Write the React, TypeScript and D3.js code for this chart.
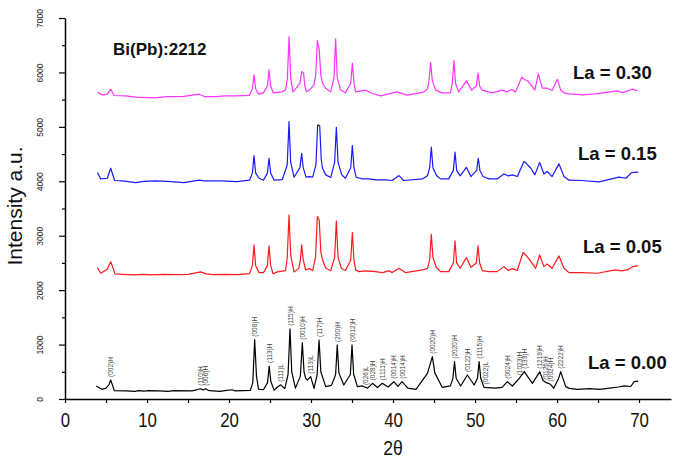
import { useEffect, useRef } from 'react';
import * as d3 from 'd3';

// [2θ, intensity], one list per sample
const la000: [number, number][] = [
  [3.8, 239], [4.5, 178], [5.0, 200], [5.35, 260], [5.57, 349], [5.8, 250], [6.0, 153], [7.5, 150],
  [8.5, 140], [9.0, 155], [9.6, 145], [10.2, 153], [11.5, 150], [12.6, 140], [13.2, 153], [15.5, 150],
  [16.55, 189], [16.85, 165], [17.15, 189], [17.6, 153], [18.9, 140], [19.5, 153], [20.3, 170], [20.8, 150],
  [22.6, 160], [22.9, 300], [23.13, 1090], [23.35, 420], [23.6, 180], [24.2, 170], [24.7, 300], [24.9, 606],
  [25.1, 320], [25.5, 160], [25.9, 220], [26.3, 260], [26.8, 190], [27.2, 450], [27.44, 1290], [27.65, 500],
  [28.1, 200], [28.7, 420], [28.94, 1035], [29.15, 500], [29.35, 380], [29.56, 349], [29.96, 410], [30.37, 196],
  [30.75, 450], [30.98, 1084], [31.2, 500], [31.79, 227], [32.5, 250], [33.0, 450], [33.2, 993], [33.4, 480],
  [34.0, 257], [34.8, 450], [35.0, 993], [35.2, 460], [35.65, 227], [36.26, 240], [36.9, 200], [37.5, 288],
  [38.1, 210], [38.7, 288], [39.4, 220], [40.1, 318], [40.6, 230], [41.1, 318], [41.8, 200], [42.8, 178],
  [44.2, 472], [44.55, 650], [44.8, 778], [45.1, 480], [46.0, 214], [47.0, 240], [47.3, 380], [47.5, 686],
  [47.7, 380], [48.25, 239], [49.07, 441], [49.9, 257], [50.3, 380], [50.5, 686], [50.7, 380], [51.1, 214],
  [52.5, 200], [53.3, 214], [53.95, 318], [54.56, 239], [55.4, 380], [56.0, 502], [57.0, 288], [57.9, 502],
  [58.3, 340], [58.7, 300], [59.2, 270], [59.6, 196], [60.2, 380], [60.45, 502], [61.06, 227], [61.5, 196],
  [62.5, 178], [64.0, 190], [65.2, 178], [66.4, 200], [67.5, 220], [68.2, 240], [69.0, 230], [69.4, 320],
  [69.9, 330],
];

const la005: [number, number][] = [
  [3.95, 2413], [4.35, 2310], [5.16, 2384], [5.57, 2524], [6.1, 2298], [7.0, 2291], [8.5, 2280], [9.5, 2291],
  [10.5, 2280], [12, 2291], [13.5, 2285], [15, 2291], [16.55, 2335], [17.2, 2300], [18, 2285], [19.5, 2291],
  [21, 2285], [22.5, 2305], [22.85, 2450], [23.05, 2830], [23.25, 2450], [23.66, 2322], [24.2, 2322], [24.68, 2450],
  [24.88, 2812], [25.08, 2450], [25.37, 2300], [25.9, 2335], [26.9, 2360], [27.1, 2600], [27.32, 3382], [27.52, 2650],
  [27.93, 2335], [28.5, 2400], [28.7, 2550], [28.86, 2830], [29.05, 2560], [29.35, 2370], [29.76, 2395], [30.2, 2360],
  [30.55, 2600], [30.77, 3352], [31.0, 3290], [31.2, 2700], [31.4, 2560], [31.8, 2402], [32.4, 2360], [32.88, 2600],
  [33.09, 3274], [33.3, 2600], [33.7, 2402], [34.2, 2360], [34.84, 2550], [35.04, 3060], [35.24, 2550], [35.44, 2371],
  [35.85, 2340], [36.66, 2355], [37.9, 2340], [38.7, 2322], [39.5, 2355], [39.9, 2322], [40.73, 2401], [41.5, 2322],
  [43.6, 2371], [44.2, 2400], [44.47, 2550], [44.67, 3027], [44.87, 2600], [45.28, 2420], [45.8, 2340], [46.8, 2340],
  [47.36, 2500], [47.56, 2904], [47.76, 2500], [48.2, 2402], [48.94, 2598], [49.5, 2420], [50.16, 2500], [50.36, 2812],
  [50.56, 2500], [50.89, 2360], [51.7, 2340], [52.7, 2340], [53.53, 2432], [54.06, 2360], [54.55, 2395], [55.16, 2360],
  [55.85, 2690], [56.2, 2647], [56.8, 2530], [57.4, 2401], [57.88, 2647], [58.4, 2432], [58.8, 2480], [59.4, 2401],
  [60.24, 2629], [60.85, 2401], [61.46, 2322], [63.0, 2322], [64.9, 2310], [67.15, 2371], [67.8, 2353], [68.6, 2371],
  [69.2, 2432], [69.9, 2450],
];

const la015: [number, number][] = [
  [3.95, 4160], [4.35, 4044], [5.16, 4056], [5.57, 4240], [6.06, 4014], [7, 4007], [8.6, 3977], [9.6, 4000],
  [11, 4007], [12.5, 4000], [14.5, 3977], [16.35, 4020], [17, 4007], [19, 4007], [21, 3995], [22.5, 4020],
  [22.85, 4150], [23.05, 4472], [23.25, 4150], [23.66, 4056], [24.2, 4020], [24.68, 4150], [24.88, 4423], [25.08, 4150],
  [25.5, 4020], [26.5, 4032], [27.1, 4300], [27.32, 5097], [27.52, 4350], [27.93, 4075], [28.65, 4250], [28.86, 4514],
  [29.05, 4250], [29.4, 4075], [29.8, 4087], [30.2, 4075], [30.6, 4300], [30.81, 5036], [31.06, 5018], [31.25, 4400],
  [31.4, 4240], [31.8, 4118], [32.4, 4069], [32.88, 4350], [33.09, 4993], [33.3, 4350], [33.75, 4118], [34.2, 4056],
  [34.84, 4250], [35.04, 4656], [35.24, 4250], [35.5, 4075], [36.25, 4044], [37.1, 4044], [37.9, 4026], [39.1, 4026],
  [39.9, 4014], [40.73, 4105], [41.3, 4014], [43.6, 4044], [44.2, 4100], [44.47, 4250], [44.67, 4626], [44.87, 4250],
  [45.3, 4105], [45.8, 4044], [46.8, 4044], [47.36, 4200], [47.56, 4534], [47.76, 4200], [48.2, 4100], [48.94, 4257],
  [49.5, 4087], [50.2, 4200], [50.4, 4423], [50.6, 4200], [50.97, 4087], [51.7, 4044], [52.7, 4044], [53.53, 4135],
  [54.06, 4100], [54.55, 4118], [55.16, 4087], [55.97, 4362], [56.25, 4330], [56.8, 4240], [57.3, 4118], [57.88, 4344],
  [58.4, 4135], [58.8, 4180], [59.4, 4087], [60.24, 4320], [60.85, 4087], [61.46, 4020], [63, 4014], [65.1, 3990],
  [67.55, 4075], [68.4, 4056], [69.1, 4160], [69.9, 4170],
];

const la030: [number, number][] = [
  [3.95, 5637], [4.55, 5588], [5.16, 5600], [5.57, 5692], [5.98, 5576], [7.4, 5570], [8.6, 5545], [10.85, 5533],
  [12.5, 5557], [14.5, 5560], [16.35, 5600], [17, 5557], [18.4, 5557], [19.5, 5570], [20.8, 5570], [22.5, 5580],
  [22.85, 5700], [23.05, 5955], [23.25, 5700], [23.6, 5600], [24.2, 5625], [24.68, 5750], [24.88, 6047], [25.08, 5750],
  [25.4, 5625], [26.5, 5643], [26.9, 5680], [27.12, 5900], [27.32, 6659], [27.52, 5900], [27.8, 5643], [28.3, 5735],
  [28.65, 5800], [28.86, 6017], [29.1, 5986], [29.25, 5750], [29.45, 5643], [29.85, 5680], [30.36, 5772], [30.57, 5950],
  [30.77, 6586], [31.0, 6415], [31.2, 5950], [31.4, 5802], [31.8, 5710], [32.4, 5643], [32.8, 5900], [33.0, 6617],
  [33.2, 5900], [33.6, 5680], [34.2, 5625], [34.84, 5800], [35.04, 6170], [35.24, 5800], [35.44, 5643], [36.66, 5674],
  [37.5, 5612], [38.5, 5570], [39.5, 5606], [40.5, 5643], [41.7, 5582], [42.8, 5612], [43.8, 5643], [44.2, 5700],
  [44.39, 5850], [44.59, 6182], [44.79, 5850], [45.2, 5674], [46.0, 5625], [47.0, 5625], [47.23, 5800], [47.43, 6219],
  [47.63, 5800], [48.0, 5643], [48.45, 5735], [48.94, 5845], [49.6, 5674], [50.16, 5750], [50.36, 5986], [50.56, 5750],
  [50.89, 5674], [52.1, 5625], [53.33, 5674], [53.9, 5643], [54.47, 5686], [54.95, 5643], [55.7, 5912], [56.1, 5864],
  [56.4, 5851], [57.0, 5735], [57.3, 5674], [57.72, 5974], [58.2, 5710], [58.8, 5710], [59.4, 5667], [60.04, 5876],
  [60.45, 5674], [60.85, 5625], [61.5, 5606], [63.1, 5588], [64.7, 5606], [67.35, 5662], [68.0, 5630], [69.18, 5692],
  [69.8, 5662],
];

const seriesNames = ['La = 0.00', 'La = 0.05', 'La = 0.15', 'La = 0.30'];
const seriesData = [la000, la005, la015, la030];

// reflection tags over the undoped pattern
const peakPos = [5.57, 16.55, 17.15, 23.13, 24.9, 26.3, 27.44, 28.94, 29.96, 30.98, 33.2, 35.0, 36.6, 37.5,
  38.7, 40.1, 41.1, 44.8, 47.5, 49.07, 50.5, 51.3, 53.95, 55.4, 56.0, 57.9, 58.6, 59.2, 60.45];
const peakTags = ['(002)H', '(110)H', '(006)H', '(008)H', '(113)H', '(111)L', '(115)H', '(0010)H', '(113)L', '(117)H',
  '(200)H', '(0012)H', '(026)L', '(028)H', '(1111)H', '(0014)H', '(0014)H', '(0020)H', '(2020)H', '(0122)H',
  '(1115)H', '(0022)L', '(0024)H', '(1023)H', '(133)H', '(1219)H', '(0126)H', '(0024)H', '(2222)H'];

const xTicks = d3.range(0, 71, 5);
const yTicks = d3.range(0, 7001, 500);

export default function App() {
  const svgRef = useRef<SVGSVGElement>(null);

  useEffect(() => {
    if (!svgRef.current) return;
    const width = 673;
    const height = 460;
    const svg = d3.select(svgRef.current);
    svg.selectAll('*').remove();
    svg.attr('width', width).attr('height', height);

    const font = 'Liberation Sans, Arial, Helvetica, sans-serif';
    const x = d3.scaleLinear().domain([0, 73.9]).range([65, 671]);
    const y = d3.scaleLinear().domain([0, 7000]).range([399, 18]);
    const colors = ['#000000', '#ff1a1a', '#1a1aff', '#ff33ff'];

    // curves
    const line = d3.line<[number, number]>().x(d => x(d[0])).y(d => y(d[1]));
    seriesData.forEach((s, i) => {
      svg.append('path')
        .attr('d', line(s))
        .attr('fill', 'none')
        .attr('stroke', colors[i])
        .attr('stroke-width', 1.2)
        .attr('stroke-linejoin', 'round');
    });

    // hkl tags on the undoped pattern
    const peakY = (t: number) => {
      let best = la000[0];
      la000.forEach(p => { if (Math.abs(p[0] - t) < Math.abs(best[0] - t)) best = p; });
      return best[1];
    };
    peakPos.forEach((t, i) => {
      svg.append('text')
        .attr('transform', `translate(${x(t) + 2.5},${y(peakY(t)) - 3}) rotate(-90)`)
        .attr('font-family', font)
        .attr('font-size', 6.5)
        .attr('fill', '#444')
        .text(peakTags[i]);
    });

    // x axis
    const gx = svg.append('g')
      .attr('transform', `translate(0,${y(0)})`)
      .call(d3.axisBottom(x).tickValues(xTicks).tickSize(4).tickSizeOuter(0)
        .tickFormat(d => (+d % 10 === 0 ? String(d) : '')));
    gx.select('.domain').attr('stroke', '#000').attr('stroke-width', 1.5);
    gx.selectAll('.tick line').attr('stroke', '#000').attr('stroke-width', 1.2);
    gx.selectAll('.tick text')
      .attr('font-family', font)
      .attr('font-size', 20)
      .attr('fill', '#111')
      .attr('y', 0)
      .attr('dy', 0)
      .attr('transform', 'translate(0,28) scale(0.84,1)');

    // y axis
    const gy = svg.append('g')
      .attr('transform', `translate(${x(0)},0)`)
      .call(d3.axisLeft(y).tickValues(yTicks).tickSize(6).tickSizeOuter(0)
        .tickFormat(d => (+d % 1000 === 0 ? String(d) : '')));
    gy.select('.domain').attr('stroke', '#000').attr('stroke-width', 1.5);
    gy.selectAll('.tick line')
      .attr('stroke', '#000')
      .attr('stroke-width', 1.2)
      .attr('x2', (d: any) => (d % 1000 === 0 ? -6 : -3));
    gy.selectAll('.tick text')
      .attr('font-family', font)
      .attr('font-size', 8.5)
      .attr('fill', '#222')
      .attr('text-anchor', 'middle')
      .attr('x', 0)
      .attr('dy', 0)
      .attr('y', -22)
      .attr('transform', 'rotate(-90)');

    // axis titles
    svg.append('text')
      .attr('transform', 'translate(22,206) rotate(-90)')
      .attr('text-anchor', 'middle')
      .attr('font-family', font)
      .attr('font-size', 21)
      .attr('fill', '#111')
      .text('Intensity a.u.');

    svg.append('text')
      .attr('transform', 'translate(393,455) scale(0.9,1)')
      .attr('text-anchor', 'middle')
      .attr('font-family', font)
      .attr('font-size', 19.5)
      .attr('fill', '#111')
      .text('2θ');

    svg.append('text')
      .attr('x', 113).attr('y', 55)
      .attr('font-family', font)
      .attr('font-weight', 'bold')
      .attr('font-size', 17)
      .attr('fill', '#111')
      .text('Bi(Pb):2212');

    // sample labels, right side
    const labelPos = [[588, 369], [583, 253], [578, 160], [573, 79]];
    seriesNames.forEach((name, i) => {
      svg.append('text')
        .attr('x', labelPos[i][0]).attr('y', labelPos[i][1])
        .attr('font-family', font)
        .attr('font-weight', 'bold')
        .attr('font-size', 18.5)
        .attr('fill', '#111')
        .text(name);
    });
  }, []);

  return (
    <div style={{ position: 'fixed', left: 0, top: 0, width: 673, height: 460, background: '#fff' }}>
      <svg ref={svgRef}></svg>
    </div>
  );
}
